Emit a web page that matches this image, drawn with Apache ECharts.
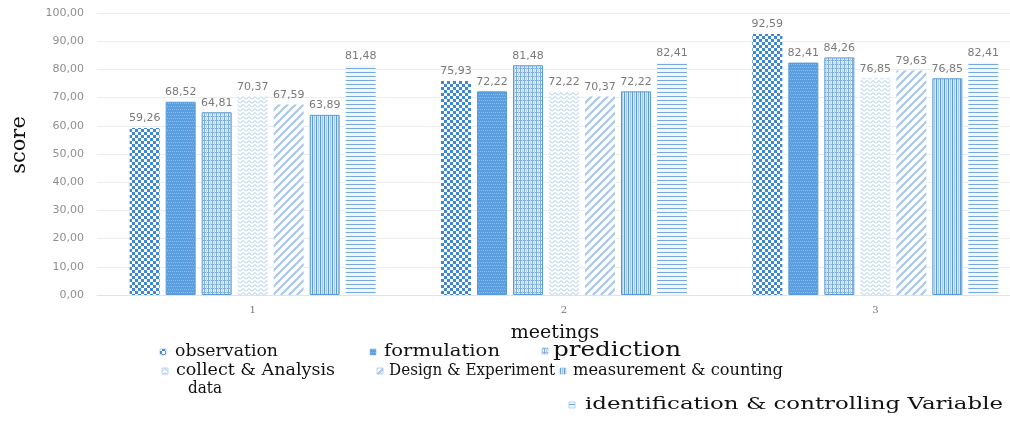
<!DOCTYPE html>
<html>
<head>
<meta charset="utf-8">
<script src="https://cdn.jsdelivr.net/npm/echarts@6/dist/echarts.min.js"></script>
<style>
  html, body { margin: 0; padding: 0; background: #fff; }
  #chart { width: 1010px; height: 442px; }
</style>
</head>
<body>
<div id="chart"></div>
<script>
// Meetings on the category axis
const meetings = ['1', '2', '3'];

// Score per science-process skill, one value per meeting
const observation = [59.26, 75.93, 92.59];
const formulation = [68.52, 72.22, 82.41];
const prediction = [64.81, 81.48, 84.26];
const collectAnalysis = [70.37, 72.22, 76.85];
const designExperiment = [67.59, 70.37, 79.63];
const measurementCounting = [63.89, 72.22, 76.85];
const identificationVariable = [81.48, 82.41, 82.41];

// Value axis ticks
const yMin = 0;
const yMax = 100;
const yStep = 10;

// Small repeating tiles used as bar fills
function tile(w, h, draw) {
  const c = document.createElement('canvas');
  c.width = w; c.height = h;
  const g = c.getContext('2d');
  draw(g, w, h);
  return { image: c, repeat: 'repeat' };
}

const fills = {
  checker: tile(6, 6, (g) => {
    g.fillStyle = '#ffffff'; g.fillRect(0, 0, 6, 6);
    g.fillStyle = '#3f86d6';
    g.fillRect(0, 0, 3, 3); g.fillRect(3, 3, 3, 3);
  }),
  wave: tile(6, 6, (g) => {
    g.fillStyle = '#5b9ddd'; g.fillRect(0, 0, 6, 6);
    g.fillStyle = '#8ebcea';
    g.fillRect(0, 1, 1, 1); g.fillRect(2, 1, 1, 1); g.fillRect(4, 1, 1, 1);
    g.fillRect(1, 4, 1, 1); g.fillRect(3, 4, 1, 1); g.fillRect(5, 4, 1, 1);
  }),
  plaid: tile(4, 4, (g) => {
    g.fillStyle = '#e4eef9'; g.fillRect(0, 0, 4, 4);
    g.fillStyle = '#7aaee3';
    g.fillRect(0, 0, 1, 4); g.fillRect(0, 0, 4, 1);
    g.fillStyle = '#bcd6f1';
    g.fillRect(2, 0, 1, 4);
  }),
  zigzag: tile(6, 4, (g) => {
    g.fillStyle = '#ffffff'; g.fillRect(0, 0, 6, 4);
    g.strokeStyle = '#a3c4ea'; g.lineWidth = 1;
    g.beginPath(); g.moveTo(0, 3.5); g.lineTo(3, 0.5); g.lineTo(6, 3.5); g.stroke();
  }),
  diagonal: tile(8, 8, (g) => {
    g.fillStyle = '#ffffff'; g.fillRect(0, 0, 8, 8);
    g.strokeStyle = '#a9c7ea'; g.lineWidth = 2.2;
    g.beginPath(); g.moveTo(-1, 9); g.lineTo(9, -1); g.stroke();
    g.beginPath(); g.moveTo(-1, 1); g.lineTo(1, -1); g.stroke();
    g.beginPath(); g.moveTo(7, 9); g.lineTo(9, 7); g.stroke();
  }),
  vstripe: tile(4, 1, (g) => {
    g.fillStyle = '#dbe8f7'; g.fillRect(0, 0, 4, 1);
    g.fillStyle = '#5b9bd5'; g.fillRect(0, 0, 1, 1);
    g.fillStyle = '#a8c9ec'; g.fillRect(2, 0, 1, 1);
  }),
  hstripe: tile(1, 4, (g) => {
    g.fillStyle = '#f3f7fc'; g.fillRect(0, 0, 1, 4);
    g.fillStyle = '#76a9df'; g.fillRect(0, 0, 1, 1);
  })
};

const seriesDefs = [
  { name: 'observation', data: observation, fill: fills.checker, border: null },
  { name: 'formulation', data: formulation, fill: fills.wave, border: '#5b9bd5' },
  { name: 'prediction', data: prediction, fill: fills.plaid, border: '#5b9bd5' },
  { name: 'collect & Analysis data', data: collectAnalysis, fill: fills.zigzag, border: null },
  { name: 'Design & Experiment', data: designExperiment, fill: fills.diagonal, border: null },
  { name: 'measurement & counting', data: measurementCounting, fill: fills.vstripe, border: '#5b9bd5' },
  { name: 'identification & controlling Variable', data: identificationVariable, fill: fills.hstripe, border: null }
];

const comma = (v, d) => Number(v).toFixed(d).replace('.', ',');

const serifFont = 'DejaVu Serif';

// Legend block: marker + text, laid out freely under the plot.
// Each entry: series index, marker x, text x, center y, font size, text width.
const legendLayout = [
  { i: 0, mx: 163, tx: 175, y: 352, size: 17, w: 103 },
  { i: 1, mx: 373, tx: 384, y: 352, size: 17, w: 116 },
  { i: 2, mx: 545, tx: 553, y: 351, size: 21, w: 128 },
  { i: 3, mx: 165, tx: 176, y: 371, size: 17, w: 159, text: 'collect & Analysis' },
  { i: 4, mx: 380, tx: 389, y: 371, size: 17, w: 166 },
  { i: 5, mx: 563, tx: 573, y: 371, size: 17, w: 210 },
  { i: 6, mx: 572, tx: 585, y: 405, size: 17, w: 418 }
];

const measureCtx = document.createElement('canvas').getContext('2d');
function textWidth(text, size) {
  measureCtx.font = size + 'px "' + serifFont + '"';
  return measureCtx.measureText(text).width;
}

function legendGraphics() {
  const out = [];
  legendLayout.forEach((e) => {
    const s = seriesDefs[e.i];
    const label = e.text || s.name;
    out.push({
      type: 'rect',
      shape: { x: e.mx - 3, y: e.y - 3, width: 6, height: 6 },
      style: { fill: s.fill, stroke: '#8db6e3', lineWidth: 0.6 }
    });
    out.push({
      type: 'text',
      x: e.tx, y: e.y,
      scaleX: e.w / textWidth(label, e.size),
      style: {
        text: label, fontFamily: serifFont, fontSize: e.size,
        fill: '#111', align: 'left', verticalAlign: 'middle'
      }
    });
  });
  out.push({
    type: 'text', x: 188, y: 389,
    scaleX: 34 / textWidth('data', 17),
    style: { text: 'data', fontFamily: serifFont, fontSize: 17, fill: '#111', verticalAlign: 'middle' }
  });
  return out;
}

const chart = echarts.init(document.getElementById('chart'), null, { renderer: 'canvas' });

chart.setOption({
  animation: false,
  backgroundColor: '#ffffff',
  // The plot runs past the right edge of the canvas, so the last group sits near it.
  grid: { left: 97, width: 934, top: 13, bottom: 147, outerBoundsMode: 'none' },
  xAxis: {
    type: 'category',
    data: meetings,
    axisTick: { show: false },
    axisLine: { show: true, lineStyle: { color: '#e3e3e3', width: 1 } },
    axisLabel: { margin: 10, color: '#777', fontFamily: serifFont, fontSize: 10 }
  },
  yAxis: {
    type: 'value',
    min: yMin, max: yMax, interval: yStep,
    axisLine: { show: false },
    axisTick: { show: false },
    splitLine: { lineStyle: { color: '#ececec', width: 1 } },
    axisLabel: {
      margin: 13, color: '#8f8f8f', fontFamily: 'DejaVu Sans', fontSize: 11,
      formatter: (v) => comma(v, 2)
    }
  },
  graphic: [
    {
      type: 'text', x: 20, y: 145, rotation: Math.PI / 2,
      style: { text: 'score', fontFamily: serifFont, fontSize: 21, fill: '#111', align: 'center', verticalAlign: 'middle' }
    },
    {
      type: 'text', x: 555, y: 333,
      style: { text: 'meetings', fontFamily: serifFont, fontSize: 19, fill: '#111', align: 'center', verticalAlign: 'middle' }
    }
  ].concat(legendGraphics()),
  series: seriesDefs.map((s) => ({
    type: 'bar',
    name: s.name,
    data: s.data,
    barWidth: 30,
    barGap: '20%',
    itemStyle: {
      color: s.fill,
      borderColor: s.border || 'transparent',
      borderWidth: s.border ? 1 : 0
    },
    label: {
      show: true, position: 'top', distance: 4,
      color: '#7a7a7a', fontFamily: 'DejaVu Sans', fontSize: 11,
      formatter: (p) => comma(p.value, 2)
    }
  }))
});
</script>
</body>
</html>
